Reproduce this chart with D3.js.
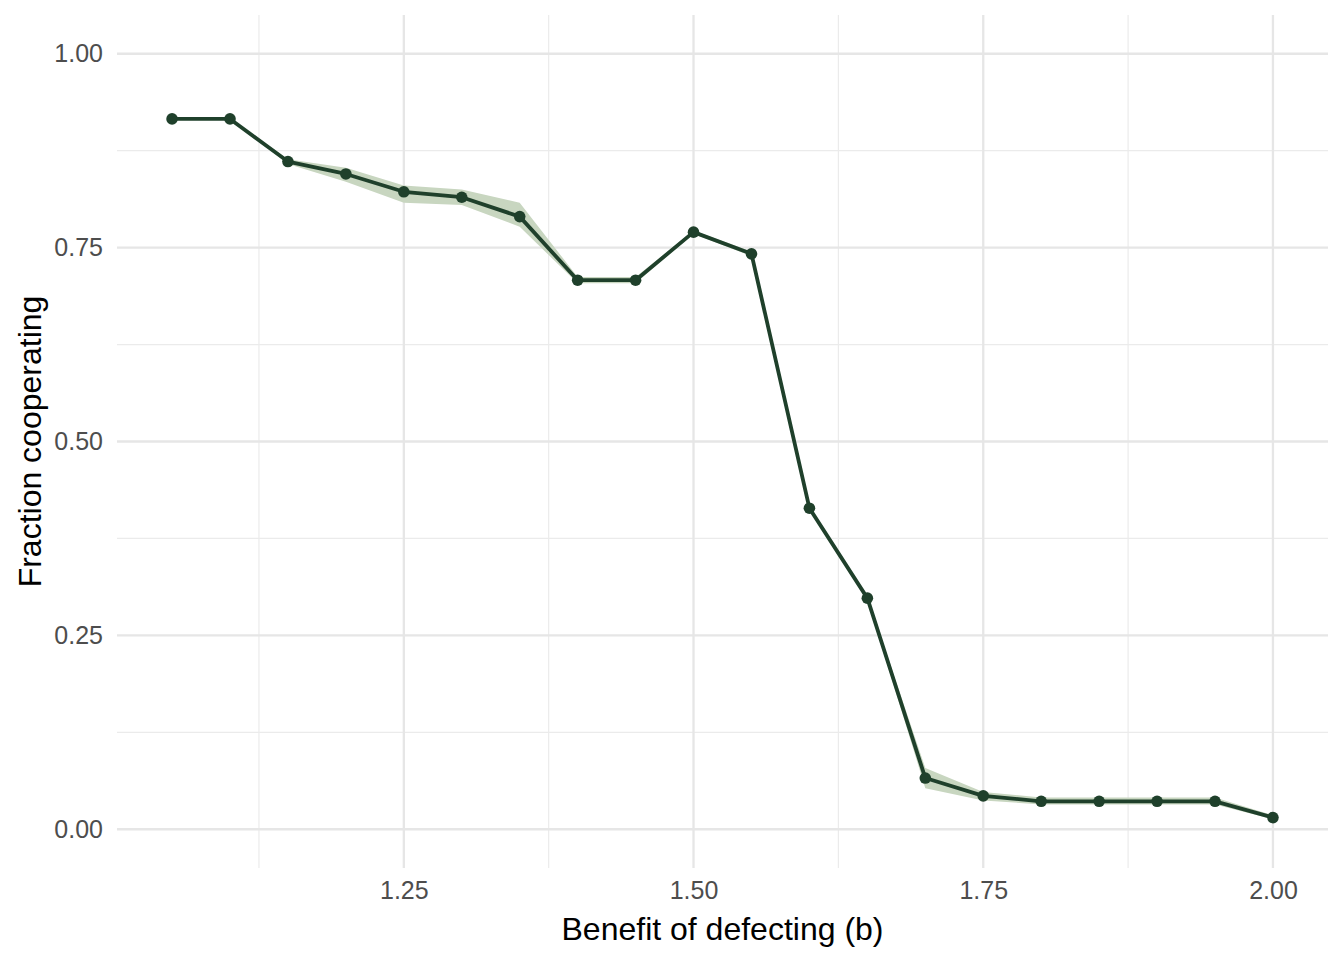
<!DOCTYPE html>
<html>

<head>
    <meta charset="UTF-8">
    <style>
        body { margin: 0; background: #fff; }
        text { font-family: "Liberation Sans", Arial, Helvetica, sans-serif; }
    </style>
</head>

<body>
    <div id="my_dataviz"></div>

    <script src="https://d3js.org/d3.v7.min.js"></script>
    <script>
        // benefit of defecting values and the fraction cooperating (mean + ribbon bounds)
        const benefit = [1.05, 1.10, 1.15, 1.20, 1.25, 1.30, 1.35, 1.40, 1.45, 1.50,
            1.55, 1.60, 1.65, 1.70, 1.75, 1.80, 1.85, 1.90, 1.95, 2.00];
        const coopMean = [0.916, 0.916, 0.861, 0.845, 0.822, 0.815, 0.790, 0.708, 0.708, 0.770,
            0.742, 0.414, 0.298, 0.066, 0.043, 0.036, 0.036, 0.036, 0.036, 0.015];
        const coopLower = [0.916, 0.916, 0.858, 0.835, 0.808, 0.805, 0.777, 0.704, 0.704, 0.768,
            0.739, 0.412, 0.296, 0.053, 0.037, 0.032, 0.032, 0.032, 0.032, 0.013];
        const coopUpper = [0.916, 0.916, 0.864, 0.853, 0.830, 0.825, 0.808, 0.712, 0.712, 0.772,
            0.745, 0.416, 0.300, 0.079, 0.048, 0.041, 0.041, 0.041, 0.041, 0.018];

        const xTicks = [1.25, 1.50, 1.75, 2.00];
        const xMinor = [1.125, 1.375, 1.625, 1.875];
        const yTicks = [0, 0.25, 0.5, 0.75, 1];
        const yMinor = [0.125, 0.375, 0.625, 0.875];

        const W = 1344, H = 960;
        const panel = { left: 117, right: 1328, top: 15, bottom: 868 };

        const data = benefit.map((b, i) => ({ b: b, m: coopMean[i], lo: coopLower[i], hi: coopUpper[i] }));

        const svg = d3.select("#my_dataviz")
            .append("svg")
            .attr("width", W)
            .attr("height", H);

        // ggplot style 5% expansion
        const xPad = (2.00 - 1.05) * 0.05;
        const x = d3.scaleLinear()
            .domain([1.05 - xPad, 2.00 + xPad])
            .range([panel.left, panel.right]);

        const y = d3.scaleLinear()
            .domain([-0.05, 1.05])
            .range([panel.bottom, panel.top]);

        // grid lines
        const grid = svg.append("g");
        grid.selectAll(".xminor").data(xMinor).enter().append("line")
            .attr("x1", d => x(d)).attr("x2", d => x(d))
            .attr("y1", panel.top).attr("y2", panel.bottom)
            .attr("stroke", "#ebebeb").attr("stroke-width", 1.2);
        grid.selectAll(".yminor").data(yMinor).enter().append("line")
            .attr("y1", d => y(d)).attr("y2", d => y(d))
            .attr("x1", panel.left).attr("x2", panel.right)
            .attr("stroke", "#ebebeb").attr("stroke-width", 1.2);
        grid.selectAll(".xmajor").data(xTicks).enter().append("line")
            .attr("x1", d => x(d)).attr("x2", d => x(d))
            .attr("y1", panel.top).attr("y2", panel.bottom)
            .attr("stroke", "#e6e6e6").attr("stroke-width", 2.3);
        grid.selectAll(".ymajor").data(yTicks).enter().append("line")
            .attr("y1", d => y(d)).attr("y2", d => y(d))
            .attr("x1", panel.left).attr("x2", panel.right)
            .attr("stroke", "#e6e6e6").attr("stroke-width", 2.3);

        // axes
        const xAxis = svg.append("g")
            .attr("transform", "translate(0," + panel.bottom + ")")
            .call(d3.axisBottom(x).tickValues(xTicks).tickFormat(d3.format(".2f")).tickSize(0).tickPadding(13));
        const yAxis = svg.append("g")
            .attr("transform", "translate(" + panel.left + ",0)")
            .call(d3.axisLeft(y).tickValues(yTicks).tickFormat(d3.format(".2f")).tickSize(0).tickPadding(14));
        [xAxis, yAxis].forEach(a => {
            a.select(".domain").remove();
            a.selectAll("text")
                .style("font-family", '"Liberation Sans", Arial, Helvetica, sans-serif')
                .style("font-size", "25px")
                .attr("fill", "#4d4d4d");
        });

        // ribbon
        svg.append("path")
            .datum(data)
            .attr("fill", "#c8d6c0")
            .attr("d", d3.area()
                .x(d => x(d.b))
                .y0(d => y(d.lo))
                .y1(d => y(d.hi)));

        // line
        svg.append("path")
            .datum(data)
            .attr("fill", "none")
            .attr("stroke", "#1f402b")
            .attr("stroke-width", 3.8)
            .attr("stroke-linejoin", "round")
            .attr("d", d3.line()
                .x(d => x(d.b))
                .y(d => y(d.m)));

        // points
        svg.append("g")
            .selectAll("circle")
            .data(data)
            .enter().append("circle")
            .attr("cx", d => x(d.b))
            .attr("cy", d => y(d.m))
            .attr("r", 5.8)
            .attr("fill", "#1f402b");

        // axis titles
        svg.append("text")
            .attr("x", (panel.left + panel.right) / 2)
            .attr("y", 940)
            .attr("text-anchor", "middle")
            .style("font-size", "32px")
            .attr("fill", "#000")
            .text("Benefit of defecting (b)");

        svg.append("text")
            .attr("transform", "translate(41," + (panel.top + panel.bottom) / 2 + ") rotate(-90)")
            .attr("text-anchor", "middle")
            .style("font-size", "32px")
            .attr("fill", "#000")
            .text("Fraction cooperating");
    </script>
</body>

</html>
